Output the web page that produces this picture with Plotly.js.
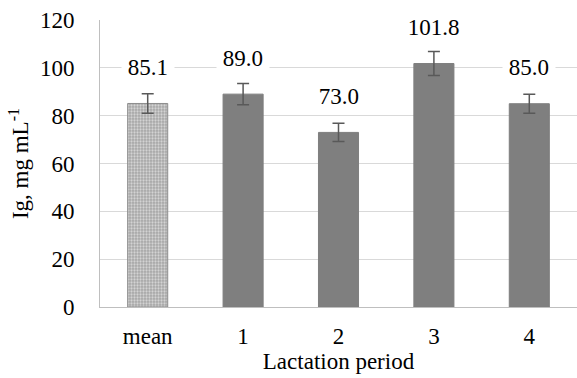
<!DOCTYPE html>
<html><head><meta charset="utf-8">
<script src="https://cdn.plot.ly/plotly-3.0.1.min.js"></script>
<style>html,body{margin:0;padding:0;background:#fff}#c{width:577px;height:378px}</style>
</head><body><div id="c"></div>
<script>
const categories = ["mean", "1", "2", "3", "4"];
const values = [85.1, 89.0, 73.0, 101.8, 85.0];
const errors = [4.1, 4.4, 3.8, 5.0, 4.0];
const labels = ["85.1", "89.0", "73.0", "101.8", "85.0"];

const FAM = "'Liberation Serif', 'Times New Roman', serif";
function f(size) { return {family: FAM, size: size, color: "#000000"}; }

const errStyle = {type: "data", visible: true, color: "#595959", thickness: 1.5, width: 6};

const traces = [
  {
    type: "bar",
    x: categories.slice(0, 1),
    y: values.slice(0, 1),
    width: 0.42,
    marker: {
      color: "#a6a6a6",
      line: {color: "#8c8c8c", width: 1},
      pattern: {shape: ".", fgcolor: "#ffffff", fillmode: "overlay", size: 3, solidity: 0.45}
    },
    error_y: Object.assign({array: errors.slice(0, 1)}, errStyle),
    hoverinfo: "skip"
  },
  {
    type: "bar",
    x: categories.slice(1),
    y: values.slice(1),
    width: 0.42,
    marker: {color: "#7f7f7f", line: {color: "#7f7f7f", width: 1}},
    error_y: Object.assign({array: errors.slice(1)}, errStyle),
    hoverinfo: "skip"
  }
];

const annotations = categories.map((c, i) => ({
  x: c, y: values[i], text: "\u00a0" + labels[i] + "\u00a0", showarrow: false,
  yshift: 36, font: f(23),
  bgcolor: "#ffffff", borderpad: 0
}));

const layout = {
  width: 577, height: 378,
  margin: {l: 100, r: 0, t: 20, b: 71},
  paper_bgcolor: "#fff", plot_bgcolor: "#fff",
  showlegend: false,
  barmode: "overlay",
  font: f(23),
  xaxis: {
    type: "category", categoryorder: "array", categoryarray: categories,
    showline: true, linecolor: "#bfbfbf", linewidth: 1,
    ticks: "", tickfont: f(23), ticklabelstandoff: 8,
    title: {text: "Lactation period", font: f(23), standoff: 4},
    range: [-0.5, 4.5]
  },
  yaxis: {
    range: [0, 120], dtick: 20, tick0: 0,
    showgrid: true, gridcolor: "#d9d9d9", gridwidth: 1,
    zeroline: false,
    showline: true, linecolor: "#bfbfbf", linewidth: 1,
    ticks: "", ticklabelstandoff: 20,
    tickfont: f(23),
    title: {text: "Ig, mg mL<sup>-1</sup>", font: f(23), standoff: 4}
  },
  annotations: annotations
};

Plotly.newPlot("c", traces, layout, {displayModeBar: false, staticPlot: true});
</script>
</body></html>
